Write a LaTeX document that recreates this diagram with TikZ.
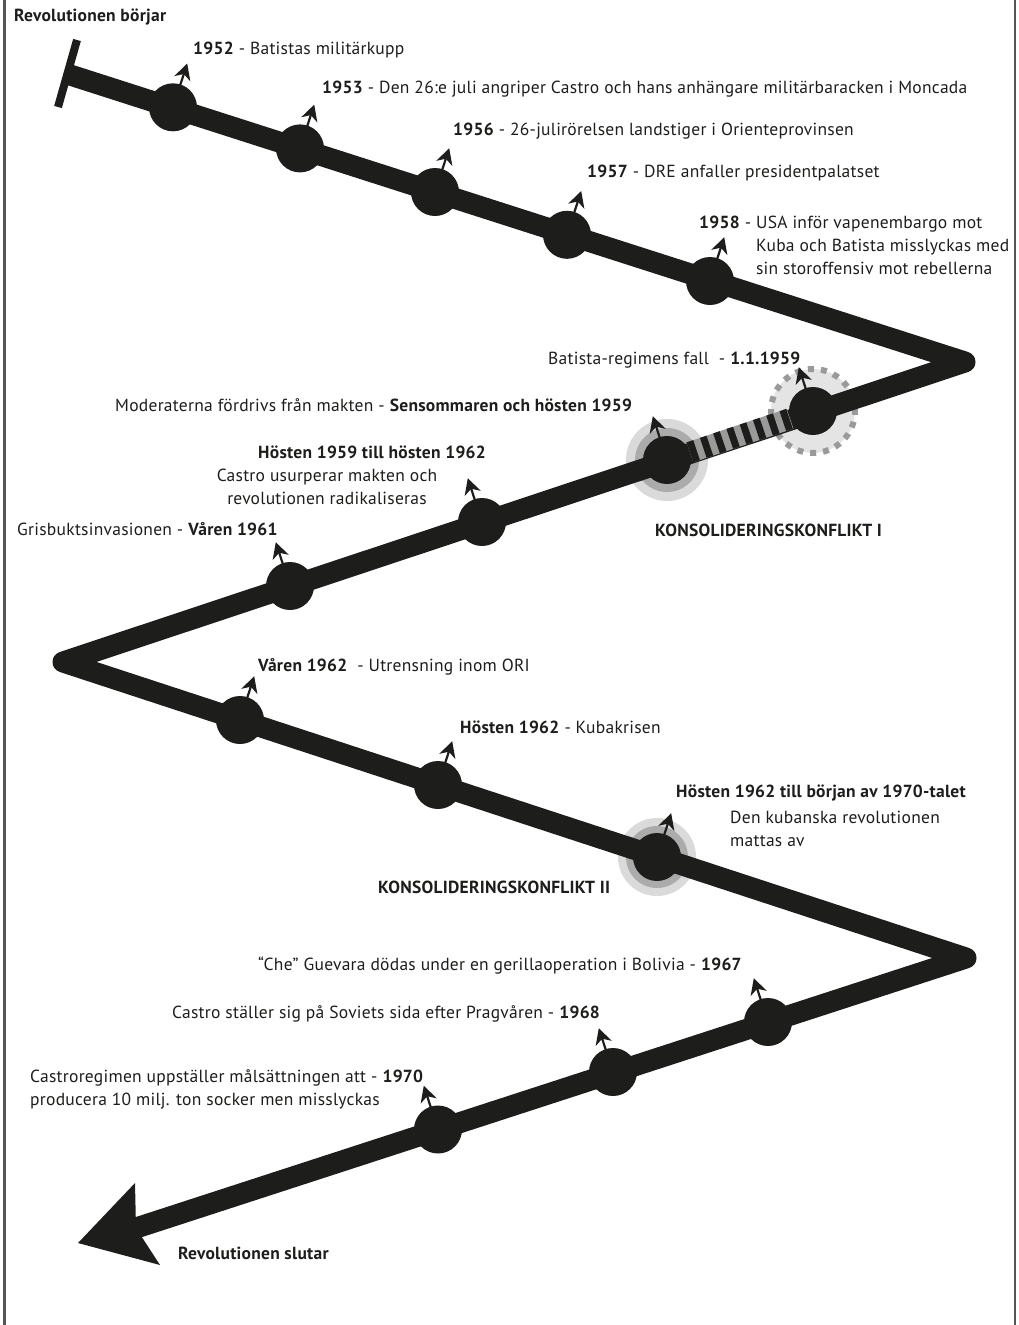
\documentclass[tikz,border=0pt]{standalone}
\usepackage{fontspec}
\setmainfont{PT Sans}[LetterSpace=1.5]
\usetikzlibrary{arrows.meta,calc}
\definecolor{ink}{HTML}{1D1D1B}
\definecolor{halolight}{HTML}{DADADA}
\definecolor{halomid}{HTML}{ABABAB}
\definecolor{stripegray}{HTML}{9A9A9A}
\definecolor{ringfill}{HTML}{E4E4E4}
\definecolor{framegray}{HTML}{555555}
\newcommand\evtarr[2]{\begin{scope}[shift={(#1.center)},rotate=#2]
  \draw[ink,line width=2.2pt] (23,0) -- (36,0);
  \fill[ink] (46,0) -- (30,8.5) -- (35,0) -- (30,-8.5) -- cycle;
\end{scope}}
\begin{document}
\begin{tikzpicture}[x=1pt,y=-1pt,
  evt/.style={circle,fill=ink,minimum size=48pt,inner sep=0pt},
  track/.style={line width=21pt,draw=ink,line join=round},
  lbl/.style={anchor=west,inner sep=0pt,font=\fontsize{17.5}{23}\selectfont,text=ink},
  halo/.style={circle,inner sep=0pt}
]
\useasboundingbox (0,0) rectangle (1019,1325);
% frame
\draw[line width=2.5pt,framegray] (4.5,0) -- (4.5,1325);
\draw[line width=2.5pt,framegray] (1015,0) -- (1015,1325);

% vertices
\coordinate (v0) at (67,74);
\coordinate (v1) at (965,362);
\coordinate (v2) at (63,662);
\coordinate (v3) at (966,958);
\coordinate (v4) at (136,1228);

% halos and ring
\node[halo,fill=halolight,minimum size=82pt] (h1a) at (667,460) {};
\node[halo,fill=halomid,minimum size=64pt] (h1b) at (667,460) {};
\node[halo,fill=halolight,minimum size=78pt] (h2a) at (657,857) {};
\node[halo,fill=halomid,minimum size=62pt] (h2b) at (657,857) {};
\node[halo,fill=ringfill,draw=stripegray,line width=6pt,dash pattern=on 6pt off 7pt,minimum size=84pt] (ring) at (813,411) {};

% track
\draw[track] (v0) -- (v1) -- (v2) -- (v3) -- (v4);
\draw[ink,line width=8pt] ($(v0)+(10,-34)$) -- ($(v0)+(-9,33)$);
\fill[ink] (78,1243) -- (135,1183) -- (v4) -- (160,1265) -- cycle;

% event circles
\node[evt] (e1952) at (173,107.3) {};
\node[evt] (e1953) at (300,148.4) {};
\node[evt] (e1956) at (435,192) {};
\node[evt] (e1957) at (567,234.8) {};
\node[evt] (e1958) at (710,281) {};
\node[evt] (e1959) at (813,411) {};
\node[evt] (cons1) at (667,460) {};
\node[evt] (e59to62) at (482,522) {};
\node[evt] (e1961) at (290,586) {};
\node[evt] (e1962v) at (240,720) {};
\node[evt] (e1962h) at (438,785) {};
\node[evt] (cons2) at (657,857) {};
\node[evt] (e1967) at (768,1022) {};
\node[evt] (e1968) at (613,1072) {};
\node[evt] (e1970) at (438,1129.5) {};

% striped stretch
\draw[line width=21pt,stripegray] (cons1) -- (e1959);
\draw[line width=21pt,ink,dash pattern=on 7pt off 7pt] (cons1) -- (e1959);

% small arrows
\evtarr{e1952}{72}
\evtarr{e1953}{72}
\evtarr{e1956}{72}
\evtarr{e1957}{72}
\evtarr{e1958}{72}
\evtarr{e1959}{108}
\evtarr{cons1}{108}
\evtarr{e59to62}{108}
\evtarr{e1961}{108}
\evtarr{e1962v}{72}
\evtarr{e1962h}{72}
\evtarr{cons2}{72}
\evtarr{e1967}{108}
\evtarr{e1968}{108}
\evtarr{e1970}{108}

% labels
\node[lbl] (tstart) at (14,17) {\textbf{Revolutionen börjar}};
\node[lbl] (t1952) at (193,50) {\textbf{1952} - Batistas militärkupp};
\node[lbl] (t1953) at (322,89) {\textbf{1953} - Den 26:e juli angriper Castro och hans anhängare militärbaracken i Moncada};
\node[lbl] (t1956) at (453,131) {\textbf{1956} - 26-julirörelsen landstiger i Orienteprovinsen};
\node[lbl] (t1957) at (587,173) {\textbf{1957} - DRE anfaller presidentpalatset};
\node[lbl,align=left] (t1958) at (699,245) {\textbf{1958} - USA inför vapenembargo mot\\\phantom{\textbf{1958} - }Kuba och Batista misslyckas med\\\phantom{\textbf{1958} - }sin storoffensiv mot rebellerna};
\node[lbl] (t1959) at (548,360) {Batista-regimens fall \ - \textbf{1.1.1959}};
\node[lbl] (tmod) at (115,405) {Moderaterna fördrivs från makten - \textbf{Sensommaren och hösten 1959}};
\node[lbl] (t59h) at (258,452) {\textbf{Hösten 1959 till hösten 1962}};
\node[lbl,anchor=center,align=center] (t59b) at (327,487) {Castro usurperar makten och\\revolutionen radikaliseras};
\node[lbl] (t1961) at (17,529) {Grisbuktsinvasionen - \textbf{Våren 1961}};
\node[lbl] (tk1) at (655,530) {\textbf{KONSOLIDERINGSKONFLIKT I}};
\node[lbl] (t1962v) at (258,667) {\textbf{Våren 1962} \ - Utrensning inom ORI};
\node[lbl] (t1962h) at (460,727) {\textbf{Hösten 1962} - Kubakrisen};
\node[lbl] (t62h) at (676,793) {\textbf{Hösten 1962 till början av 1970-talet}};
\node[lbl,align=left] (t62b) at (730,828.5) {Den kubanska revolutionen\\mattas av};
\node[lbl] (tk2) at (378,887) {\textbf{KONSOLIDERINGSKONFLIKT II}};
\node[lbl] (t1967) at (258,966) {“Che” Guevara dödas under en gerillaoperation i Bolivia - \textbf{1967}};
\node[lbl] (t1968) at (172,1014) {Castro ställer sig på Soviets sida efter Pragvåren - \textbf{1968}};
\node[lbl,align=left] (t1970) at (30,1089.5) {Castroregimen uppställer målsättningen att - \textbf{1970}\\producera 10 milj. ton socker men misslyckas};
\node[lbl] (tend) at (178,1253) {\textbf{Revolutionen slutar}};
\end{tikzpicture}
\end{document}
